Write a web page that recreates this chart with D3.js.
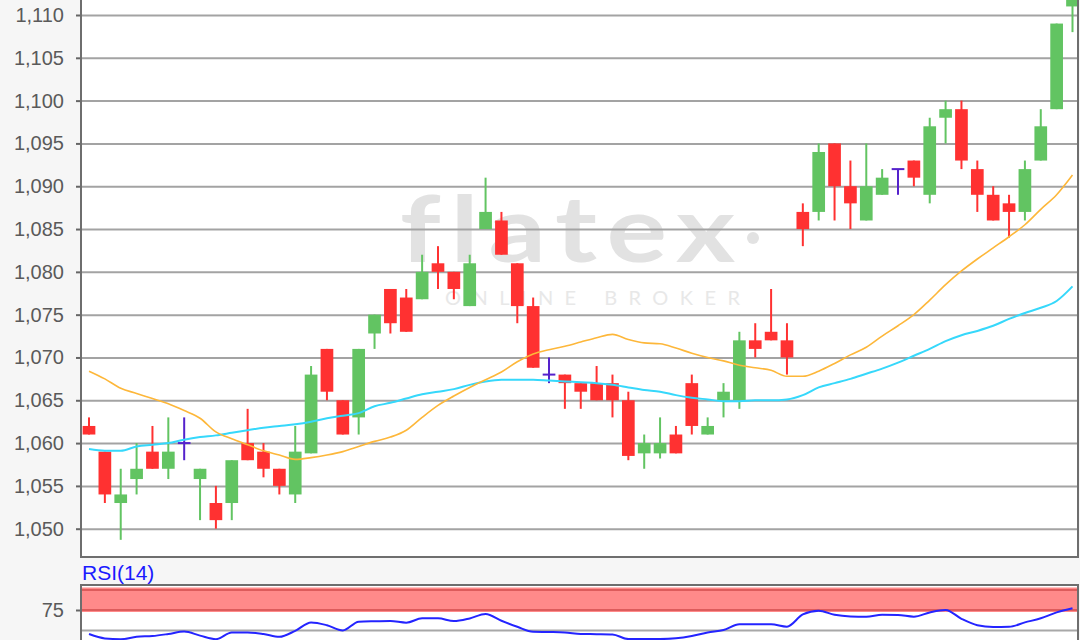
<!DOCTYPE html>
<html>
<head>
<meta charset="utf-8">
<script src="https://cdn.jsdelivr.net/npm/d3@7"></script>
<style>
  html, body { margin: 0; padding: 0; background: #f6f6f6; }
  svg { display: block; }
</style>
</head>
<body>
<svg id="chart" width="1080" height="640"></svg>
<script>
// ---- data ----
const candleIndex = d3.range(63);
const openVals  = [1062,1059,1053,1055.8,1059,1057,1060,1055.8,1053,1053,1060,1059,1057,1054,1058.8,1071,1065,1063,
  1072.8,1078,1077,1076.8,1081,1080,1076,1085,1086,1081,1076,1068,1068,1067,1067,1067,1065,1058.8,1058.8,1061,1067,1061,
  1065,1065,1072,1073,1072,1087,1087,1095,1090,1086,1089,1092,1093,1089,1098,1099,1092,1089,1088,1087,1093,1099,1111];
const highVals  = [1063,1059,1057,1060,1062,1063,1063,1057,1055,1058,1064,1060,1057,1062,1069,1071,1065,1071,
  1075,1078,1078,1082,1083,1080,1082,1091,1087,1081,1077,1070,1068,1067,1069,1068,1066,1061,1063,1062,1068,1063,
  1067,1073,1074,1078,1074,1088,1095,1095,1093,1095,1092,1092,1093,1098,1100,1100,1093,1090,1089,1093,1099,1109,1113];
const lowVals   = [1061,1053,1048.7,1054,1057,1055.8,1058,1051,1050,1051,1058,1056,1054,1053,1058.8,1065,1061,1061,
  1071,1072.8,1073,1076.8,1078,1076.8,1076,1085,1082,1074,1068.8,1067,1064,1064,1065,1063,1058,1057,1058.2,1058.8,1061,1061,
  1063,1064,1070,1072,1068,1083,1086,1086,1085,1086,1089,1089,1090,1088,1095,1092,1087,1086,1084,1086,1093,1099,1108];
const closeVals = [1061,1054,1054,1057,1057,1059,1060,1057,1051,1058,1058,1057,1055,1059,1068,1066,1061,1071,
  1075,1074,1073,1080,1080,1078,1081,1087,1082,1076,1068.8,1068,1067,1066,1065,1065,1058.5,1060,1060,1058.8,1062,1062,
  1066,1072,1071,1072,1070,1085,1094,1090,1088,1090,1091,1092,1091,1097,1099,1093,1089,1086,1087,1092,1097,1109,1112];
const maShort = [1068.4,1067.5,1066.4,1065.8,1065.2,1064.6,1063.8,1062.9,1061.3,1060.5,1059.8,1059.1,1058.6,1058.1,1058.3,1058.6,1059.0,1059.6,
  1060.2,1060.7,1061.5,1063.0,1064.4,1065.5,1066.5,1067.4,1068.3,1069.5,1070.4,1070.9,1071.3,1071.8,1072.3,1072.7,1072.1,1071.7,1071.6,1071.1,1070.5,1070.0,
  1069.6,1069.1,1068.8,1068.5,1067.8,1067.8,1068.4,1069.3,1070.3,1071.2,1072.5,1073.7,1075.0,1076.7,1078.5,1080.1,1081.5,1082.8,1084.1,1085.5,1087.3,1089.0,1091.3];
const maLong = [1059.3,1059.1,1059.1,1059.6,1059.8,1060.0,1060.4,1060.7,1060.9,1061.2,1061.5,1061.8,1062.0,1062.2,1062.5,1062.9,1063.2,1063.5,
  1064.3,1064.7,1065.2,1065.7,1066.0,1066.3,1066.8,1067.2,1067.4,1067.4,1067.4,1067.3,1067.2,1067.1,1067.0,1066.8,1066.5,1066.2,1066.0,1065.6,1065.3,1065.1,
  1064.9,1064.9,1065.0,1065.0,1065.1,1065.6,1066.5,1067.0,1067.5,1068.1,1068.7,1069.4,1070.2,1071.0,1071.9,1072.6,1073.1,1073.7,1074.5,1075.2,1075.8,1076.6,1078.3];
const rsiVals = [45,39.5,38.5,41.5,42.5,45,48,43,38.5,47,47,45,41.5,49,59.5,56,49.5,60.4,
  61,61.3,59.2,64.6,64.6,61.2,64.5,70,61.5,54,47.8,47.5,47,45,44.8,44.5,38.7,38.7,38.7,39.6,42.5,47,
  50,57.1,57.1,57.1,54.2,69.6,74.2,69,67,66.7,69,68.8,66.7,72,75,64,56,53.75,54,59.5,64.6,72,77.1];
const priceTicks = [1050,1055,1060,1065,1070,1075,1080,1085,1090,1095,1100,1105,1110];
const rsiTicks = [75];
const rsiGrid = [50];
const rsiTitle = "RSI(14)";

// ---- layout ----
const svg = d3.select("#chart");
const L = 81, R = 1078, pTop = -10, pBot = 557;
const rTop = 585, rBot = 650;
const font = "'Liberation Sans', Arial, sans-serif";

svg.append("rect").attr("width", 1080).attr("height", 640).attr("fill", "#f6f6f6");

const x = d3.scaleBand().domain(candleIndex).range([82.5, 1079]).paddingInner(0.2).paddingOuter(0.01);
const cx = i => x(i) + x.bandwidth() / 2;
const y = d3.scaleLinear().domain([1050, 1110]).range([528.7, 15]);
const yr = d3.scaleLinear().domain([50, 100]).range([630, 590]);

// main panel background
svg.append("rect").attr("x", L).attr("y", pTop).attr("width", R - L).attr("height", pBot - pTop).attr("fill", "#fff");

// watermark
const wm = svg.append("g").attr("fill", "#e2e2e2");
wm.append("text").attr("x", 400).attr("y", 262).attr("font-family", "Lato, 'Open Sans', sans-serif")
  .attr("font-weight", 700).attr("font-size", 92).attr("letter-spacing", 8)
  .attr("textLength", 345).attr("lengthAdjust", "spacingAndGlyphs").text("flatex");
wm.append("circle").attr("cx", 753).attr("cy", 238).attr("r", 6);
wm.append("text").attr("x", 445).attr("y", 305).attr("font-family", "Lato, 'Open Sans', sans-serif")
  .attr("font-size", 20).attr("fill", "#e8e8e8").attr("textLength", 295).attr("lengthAdjust", "spacing").text("ONLINE BROKER");

// grid
svg.append("g").attr("transform", `translate(${L},0)`)
  .call(d3.axisLeft(y).tickValues(priceTicks).tickSize(-(R - L)).tickFormat(""))
  .call(g => g.select(".domain").remove())
  .call(g => g.selectAll("line").attr("stroke", "#a3a3a3").attr("stroke-width", 2));

// y axis labels + ticks
svg.append("g").attr("transform", `translate(${L},0)`)
  .call(d3.axisLeft(y).tickValues(priceTicks).tickSize(5).tickPadding(12).tickFormat(d3.format(",")))
  .call(g => g.select(".domain").remove())
  .call(g => g.selectAll("line").attr("stroke", "#666").attr("stroke-width", 2))
  .call(g => g.selectAll("text").attr("font-family", font).attr("font-size", 20).attr("fill", "#5a5a5a"));

// candles
const colorOf = i => closeVals[i] > openVals[i] ? "#62c462" : (closeVals[i] < openVals[i] ? "#ff3131" : "#5522cc");
const cg = svg.append("g");
cg.selectAll("line.wick").data(candleIndex).join("line")
  .attr("x1", cx).attr("x2", cx)
  .attr("y1", i => y(highVals[i])).attr("y2", i => y(lowVals[i]))
  .attr("stroke", colorOf).attr("stroke-width", 2);
cg.selectAll("rect.body").data(candleIndex).join("rect")
  .attr("x", i => x(i))
  .attr("width", x.bandwidth())
  .attr("y", i => openVals[i] === closeVals[i] ? y(openVals[i]) - 1 : y(Math.max(openVals[i], closeVals[i])))
  .attr("height", i => openVals[i] === closeVals[i] ? 2 : Math.abs(y(openVals[i]) - y(closeVals[i])))
  .attr("fill", colorOf);

// moving averages
const lineGen = arr => d3.line().x(i => cx(i)).y(i => y(arr[i])).curve(d3.curveMonotoneX)(candleIndex);
svg.append("path").attr("d", lineGen(maLong)).attr("fill", "none").attr("stroke", "#36d8fb").attr("stroke-width", 2);
svg.append("path").attr("d", lineGen(maShort)).attr("fill", "none").attr("stroke", "#fdb73a").attr("stroke-width", 1.6);

// main panel border
svg.append("path").attr("d", `M${L},${pTop}V${pBot}H${R}V${pTop}`).attr("fill", "none").attr("stroke", "#6e6e6e").attr("stroke-width", 2);

// ---- RSI panel ----
svg.append("text").attr("x", 82).attr("y", 580).attr("font-family", font).attr("font-size", 21)
  .attr("fill", "#1a1aff").text(rsiTitle);
svg.append("rect").attr("x", L).attr("y", rTop).attr("width", R - L).attr("height", rBot - rTop).attr("fill", "#fff");
svg.append("rect").attr("x", L).attr("y", yr(100) - 2.5).attr("width", R - L).attr("height", yr(75) - yr(100) + 4.5).attr("fill", "#ff8a8a");
[100, 75].forEach(v => svg.append("line").attr("x1", L).attr("x2", R).attr("y1", yr(v)).attr("y2", yr(v))
  .attr("stroke", "#dd5c5c").attr("stroke-width", 2));
svg.append("g").attr("transform", `translate(${L},0)`)
  .call(d3.axisLeft(yr).tickValues(rsiGrid).tickSize(-(R - L)).tickFormat(""))
  .call(g => g.select(".domain").remove())
  .call(g => g.selectAll("line").attr("stroke", "#a8a8a8").attr("stroke-width", 2));
svg.append("g").attr("transform", `translate(${L},0)`)
  .call(d3.axisLeft(yr).tickValues(rsiTicks).tickSize(5).tickPadding(12))
  .call(g => g.select(".domain").remove())
  .call(g => g.selectAll("line").attr("stroke", "#666").attr("stroke-width", 2))
  .call(g => g.selectAll("text").attr("font-family", font).attr("font-size", 20).attr("fill", "#5a5a5a"));
svg.append("path")
  .attr("d", d3.line().x(i => cx(i)).y(i => yr(rsiVals[i])).curve(d3.curveMonotoneX)(candleIndex))
  .attr("fill", "none").attr("stroke", "#2424ff").attr("stroke-width", 2);
svg.append("path").attr("d", `M${L},${rBot}V${rTop}H${R}V${rBot}`).attr("fill", "none").attr("stroke", "#6e6e6e").attr("stroke-width", 2);
</script>
</body>
</html>
